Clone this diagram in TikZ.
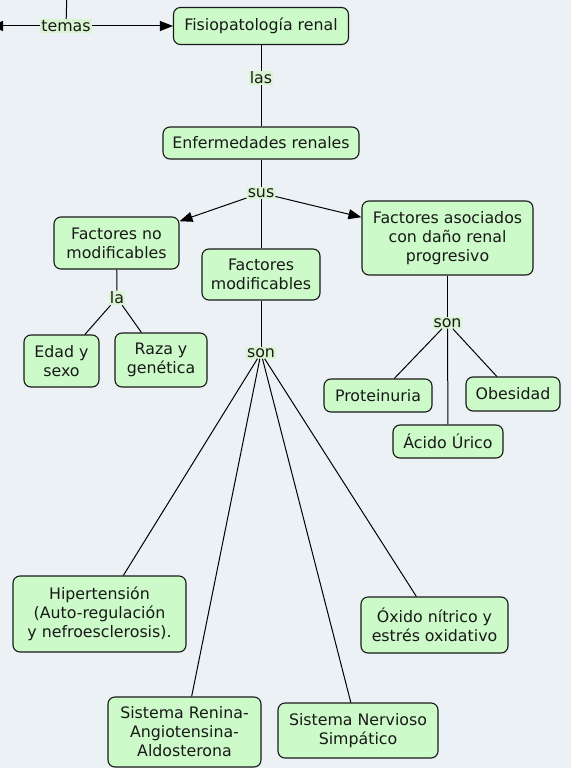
\documentclass[tikz,border=0pt]{standalone}
\usepackage{fontspec}
\setmainfont{DejaVu Sans}
\usetikzlibrary{arrows.meta}
\definecolor{bgcol}{RGB}{236,241,245}
\definecolor{conceptfill}{RGB}{204,250,200}
\definecolor{linkfill}{RGB}{218,244,210}

\begin{document}
\begin{tikzpicture}[
        x=1pt, y=-1pt,
        every node/.style={font=\fontsize{15.8}{19}\selectfont, text=black!90, align=center},
        concept/.style={draw=black!90, fill=conceptfill, rounded corners=7pt, line width=1.1pt, inner sep=0pt},
        link/.style={fill=linkfill, inner sep=1pt},
        ar/.style={-, line width=1pt},
        arr/.style={-{Triangle[length=13pt, width=10pt]}, line width=1pt},
    ]
    \useasboundingbox[fill=bgcol] (0,0) rectangle (571,768);
    \clip (0,0) rectangle (571,768);

    \coordinate (temasin) at (67,-10);
    \coordinate (temasout) at (-10,26);

    \node[concept, minimum width=175pt, minimum height=37pt](fisio) at (261,26) {Fisiopatología renal};
    \node[concept, minimum width=196pt, minimum height=32pt](enf) at (261,143) {Enfermedades renales};
    \node[concept, minimum width=125pt, minimum height=52pt](nomod) at (116.5,243) {Factores no\\modificables};
    \node[concept, minimum width=118pt, minimum height=51pt](modif) at (261,274.5) {Factores\\modificables};
    \node[concept, minimum width=171pt, minimum height=74pt](asoc) at (447.5,238) {Factores asociados\\con daño renal\\progresivo};
    \node[concept, minimum width=75pt, minimum height=52pt](edad) at (61.5,361) {Edad y\\sexo};
    \node[concept, minimum width=92pt, minimum height=54pt](raza) at (161,360) {Raza y\\genética};
    \node[concept, minimum width=108pt, minimum height=33pt](prot) at (378,395.5) {Proteinuria};
    \node[concept, minimum width=94pt, minimum height=34pt](obes) at (513,394) {Obesidad};
    \node[concept, minimum width=110pt, minimum height=33pt](acido) at (448,441.5) {Ácido Úrico};
    \node[concept, minimum width=173pt, minimum height=76pt](hiper) at (99.5,614) {Hipertensión\\(Auto-regulación\\y nefroesclerosis).};
    \node[concept, minimum width=147pt, minimum height=56pt](oxido) at (434.5,625) {Óxido nítrico y\\estrés oxidativo};
    \node[concept, minimum width=153pt, minimum height=70pt](renina) at (184.5,732) {Sistema Renina-\\Angiotensina-\\Aldosterona};
    \node[concept, minimum width=160pt, minimum height=55pt](nervioso) at (358,730.5) {Sistema Nervioso\\Simpático};

    \node[link](temas) at (66,26) {temas};
    \node[link](las) at (261,78) {las};
    \node[link](sus) at (261,193) {sus};
    \node[link](la) at (117,298) {la};
    \node[link](sonmod) at (261,353) {son};
    \node[link](sonasoc) at (447.5,323) {son};

    \path[ar]
    (temasin) edge (temas)
    (fisio) edge (las)
    (las) edge (enf)
    (enf) edge (sus)
    (sus) edge (modif)

    (nomod) edge (la)
    (la) edge (edad) edge (raza)

    (modif) edge (sonmod)
    (sonmod) edge (hiper) edge (renina) edge (nervioso) edge (oxido)

    (asoc) edge (sonasoc)
    (sonasoc) edge (prot) edge (acido) edge (obes)
    ;
    \path[arr]
    (temas) edge (fisio) edge (temasout)
    (sus) edge (nomod) edge (asoc)
    ;
\end{tikzpicture}
\end{document}
